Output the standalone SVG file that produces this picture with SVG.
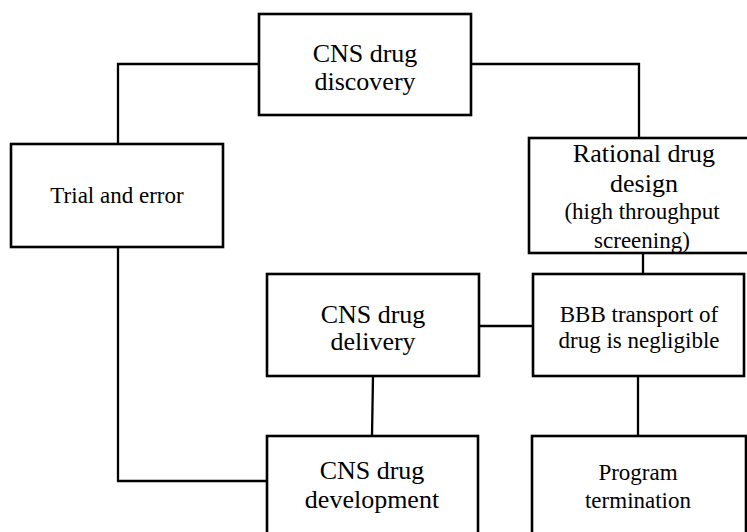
<svg xmlns="http://www.w3.org/2000/svg" width="747" height="532" viewBox="0 0 747 532">
<style>
.box{fill:#fff;stroke:#000;stroke-width:2.6}
.ln{fill:none;stroke:#000;stroke-width:2.3}
text{font-family:"Liberation Serif","Times New Roman",serif;fill:#000;text-anchor:middle}
.l{font-size:26px}
.s{font-size:23px}
</style>
<rect width="747" height="532" fill="#fff"/>
<g id="connectors">
<polyline class="ln" points="259,64 118,64 118,144"/>
<polyline class="ln" points="471,64 639,64 639,138"/>
<polyline class="ln" points="118,247 118,481 267,481"/>
<line class="ln" x1="643" y1="253" x2="643" y2="274"/>
<line class="ln" x1="479" y1="326" x2="533" y2="326"/>
<line class="ln" x1="373" y1="376" x2="372" y2="436"/>
<line class="ln" x1="638" y1="376" x2="638" y2="436"/>
</g>
<g id="discovery">
<rect class="box" x="259" y="14" width="212" height="101"/>
<text class="l" x="365" y="62">CNS drug</text>
<text class="l" x="365" y="90">discovery</text>
</g>
<g id="trial">
<rect class="box" x="11" y="144" width="212" height="103"/>
<text class="s" x="117" y="203">Trial and error</text>
</g>
<g id="rational">
<rect class="box" x="529" y="138" width="228" height="115"/>
<text class="l" x="644" y="162">Rational drug</text>
<text class="l" x="644" y="192">design</text>
<text class="s" x="642" y="219">(high throughput</text>
<text class="s" x="642" y="248">screening)</text>
</g>
<g id="bbb">
<rect class="box" x="533" y="274" width="211" height="102"/>
<text class="s" x="639" y="322">BBB transport of</text>
<text class="s" x="639" y="348">drug is negligible</text>
</g>
<g id="delivery">
<rect class="box" x="267" y="274" width="212" height="102"/>
<text class="l" x="373" y="323">CNS drug</text>
<text class="l" x="373" y="350">delivery</text>
</g>
<g id="development">
<rect class="box" x="267" y="436" width="211" height="110"/>
<text class="l" x="372" y="479">CNS drug</text>
<text class="l" x="372" y="508">development</text>
</g>
<g id="termination">
<rect class="box" x="532" y="436" width="214" height="110"/>
<text class="s" x="638" y="480">Program</text>
<text class="s" x="638" y="508">termination</text>
</g>
</svg>
